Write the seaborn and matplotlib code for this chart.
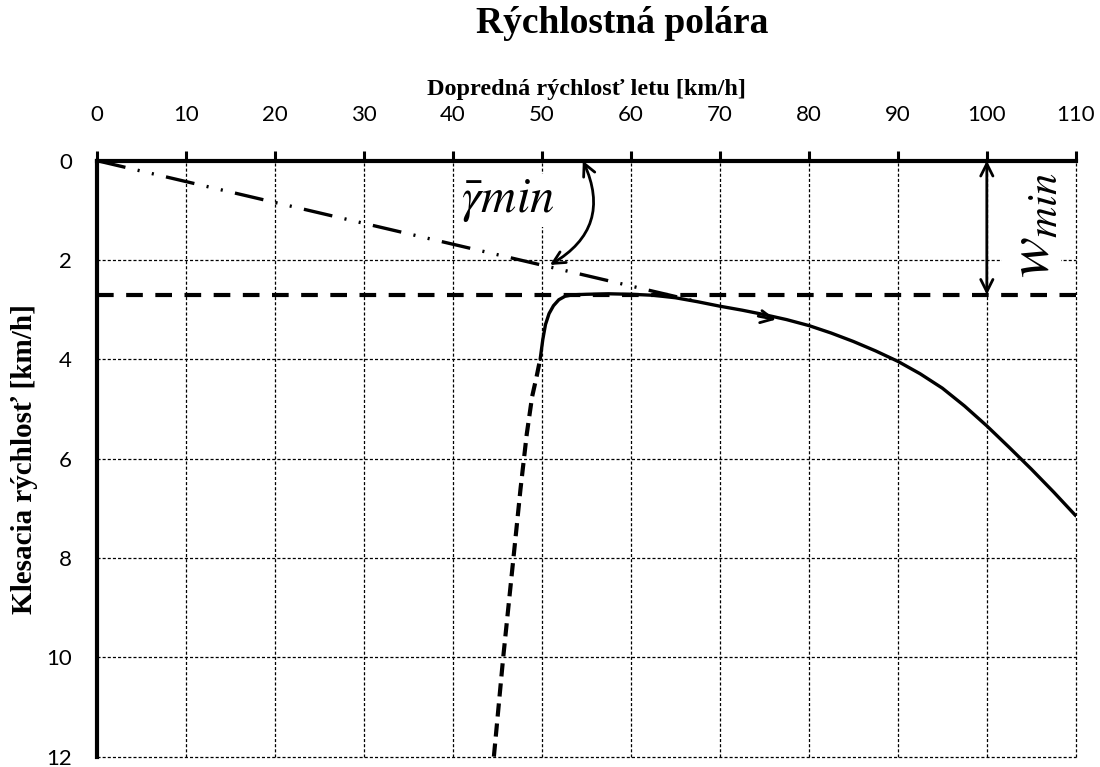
import matplotlib
matplotlib.use("Agg")
import matplotlib.pyplot as plt
import pandas as pd
import seaborn as sns

# speed polar of a glider
speed_solid = [49.8, 50.1, 50.4, 50.8, 51.3, 51.9, 52.6, 53.5, 55.0, 57.5, 60.0,
               62.5, 65.0, 67.5, 70.0, 72.5, 75.0, 77.5, 80.0, 82.5, 85.0, 87.5,
               90.0, 92.5, 95.0, 97.5, 100.0, 102.5, 105.0, 107.5, 110.0]
sink_solid = [4.0, 3.6, 3.3, 3.08, 2.92, 2.8, 2.73, 2.7, 2.69, 2.68, 2.69,
              2.71, 2.76, 2.84, 2.93, 3.01, 3.1, 3.2, 3.32, 3.47, 3.64, 3.83,
              4.04, 4.29, 4.58, 4.94, 5.34, 5.77, 6.21, 6.67, 7.15]
speed_stall = [44.6, 45.65, 46.8, 47.6, 48.3, 48.9, 49.4, 49.8]
sink_stall = [12.0, 10.0, 8.0, 6.6, 5.5, 4.75, 4.35, 4.0]
tangent_speed = [0.0, 68.0]
tangent_sink = [0.0, 2.86]
w_min = 2.7

x_ticks = list(range(0, 111, 10))
y_ticks = list(range(0, 13, 2))

polar = pd.DataFrame({"v": speed_solid, "w": sink_solid})
stall = pd.DataFrame({"v": speed_stall, "w": sink_stall})
tangent = pd.DataFrame({"v": tangent_speed, "w": tangent_sink})

sns.set_style("white")
plt.rcParams.update({
    "lines.scale_dashes": False,
    "mathtext.fontset": "stix",
    "text.color": "black",
    "axes.labelcolor": "black",
    "xtick.color": "black",
    "ytick.color": "black",
})
plt.rcParams["font.family"] = ["Lato", "DejaVu Sans"]

fig, ax = plt.subplots(figsize=(11, 7.67), dpi=100)
fig.subplots_adjust(left=0.0882, right=0.978, top=0.7905, bottom=0.0135)

ax.axhline(w_min, color="black", lw=3, ls=(0, (12, 9)), zorder=3)
sns.lineplot(data=tangent, x="v", y="w", sort=False, ax=ax, color="black", lw=2.4,
             ls=(0, (21, 9, 1.5, 9, 1.5, 9)), zorder=3)
sns.lineplot(data=stall, x="v", y="w", sort=False, ax=ax, color="black", lw=3,
             ls=(0, (9.5, 5)), zorder=4)
sns.lineplot(data=polar, x="v", y="w", sort=False, ax=ax, color="black", lw=2.4,
             zorder=4)

# arrows
ax.annotate("", xy=(76.6, 3.21), xytext=(74.0, 3.12),
            arrowprops=dict(arrowstyle="->", lw=2, color="black", mutation_scale=22))
ax.annotate("", xy=(50.9, 2.1), xytext=(54.6, 0.0),
            arrowprops=dict(arrowstyle="<->", lw=2, color="black", mutation_scale=22,
                            connectionstyle="arc3,rad=-0.45", shrinkA=0, shrinkB=0))
ax.annotate("", xy=(100, w_min), xytext=(100, 0.0),
            arrowprops=dict(arrowstyle="<->", lw=2, color="black", mutation_scale=22,
                            shrinkA=0, shrinkB=0))

ax.text(46.2, 0.8, r"$\bar{\gamma}min$", fontsize=35, ha="center", va="center",
        bbox=dict(facecolor="white", edgecolor="none", pad=2), zorder=5)
ax.text(105.0, 1.3, r"$w_{min}$", fontsize=44, ha="center", va="center", rotation=90,
        bbox=dict(facecolor="white", edgecolor="none", pad=1), zorder=5)

ax.set_xlim(0, 110)
ax.set_ylim(12, 0)
ax.set_xticks(x_ticks)
ax.set_yticks(y_ticks)
ax.xaxis.tick_top()
ax.xaxis.set_label_position("top")
ax.grid(True, color="black", lw=0.9, ls=(0, (2.2, 1.5)))
for gl in ax.get_xgridlines() + ax.get_ygridlines():
    gl.set_clip_on(False)
ax.tick_params(axis="x", direction="out", length=7, width=2.2, pad=19, labelsize=16)
ax.tick_params(axis="y", direction="out", length=6, width=2.2, pad=12, labelsize=16)
for side in ["bottom", "right"]:
    ax.spines[side].set_visible(False)
for side in ["top", "left"]:
    ax.spines[side].set_linewidth(3)
    ax.spines[side].set_color("black")

serif = dict(family="Liberation Serif", weight="bold")
ax.set_xlabel("Dopredná rýchlosť letu [km/h]", fontsize=17.5, labelpad=7, **serif)
ax.set_ylabel("Klesacia rýchlosť [km/h]", fontsize=21, labelpad=6, **serif)
fig.text(0.5655, 0.969, "Rýchlostná polára", fontsize=27, ha="center", va="center",
         **serif)

fig.savefig("out.png", dpi=100)
